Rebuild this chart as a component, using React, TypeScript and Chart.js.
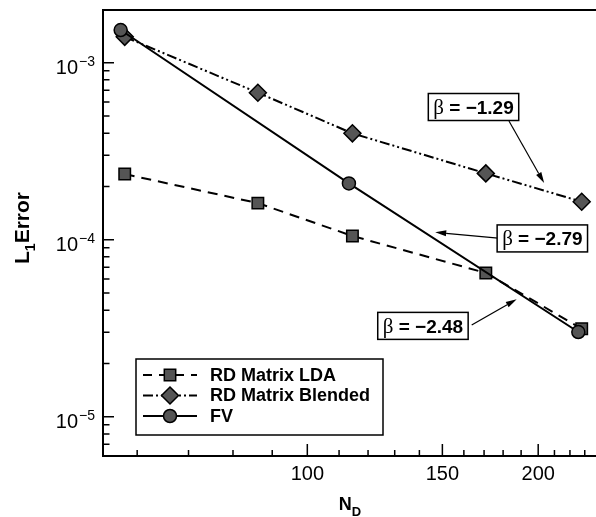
import { useEffect, useRef } from "react";
import { Chart, registerables } from "chart.js";

Chart.register(...registerables);

// Grid sizes N_D for each method
const nFV = [57.1, 113.3, 225.6];
const nRD = [57.8, 86.2, 114.5, 170.9, 227.9];

// L1 error of each method
const errLDA = [2.35e-4, 1.61e-4, 1.05e-4, 6.49e-5, 3.14e-5];
const errBlended = [1.4e-3, 6.77e-4, 3.99e-4, 2.37e-4, 1.64e-4];
const errFV = [1.53e-3, 2.08e-4, 3.01e-5];

const seriesNames = ["RD Matrix LDA", "RD Matrix Blended", "FV"];

// Axis ranges and ticks
const xRange = [54.15, 237.9];
const yRange = [6.0e-6, 1.985e-3];
const xMajorTicks = [100, 150, 200];
const xMinorTicks = [60, 70, 80, 90, 110, 120, 130, 140, 160, 170, 180, 190, 210, 220, 230];
const yMajorExponents = [-5, -4, -3];
const yMinorMantissas = [2, 3, 4, 5, 6, 7, 8, 9];
const yMinorDecades = [-6, -5, -4, -3];

// Convergence-rate callouts: label, box centre, arrow tail, arrow tip (data coordinates)
const rateLabels = ["\u22121.29", "\u22122.79", "\u22122.48"];
const rateBoxAt = [
  [164.7, 5.62e-4],
  [202.5, 1.017e-4],
  [141.5, 3.26e-5],
];
const rateTailAt = [
  [183.2, 4.68e-4],
  [177.3, 1.022e-4],
  [163.8, 3.3e-5],
];
const rateTipAt = [
  [203.6, 2.09e-4],
  [146.8, 1.101e-4],
  [187.5, 4.61e-5],
];

const WIDTH = 596;
const HEIGHT = 517;
const SANS = '"Liberation Sans", Arial, Helvetica, sans-serif';
const SERIF = '"Liberation Serif", "DejaVu Serif", serif';
const MARK_FILL = "#555555";
const INK = "#000000";

const pts = (xs: number[], ys: number[]) => xs.map((x, i) => ({ x, y: ys[i] }));

function drawMarker(ctx: CanvasRenderingContext2D, kind: string, x: number, y: number) {
  ctx.save();
  ctx.fillStyle = MARK_FILL;
  ctx.strokeStyle = INK;
  ctx.lineWidth = 1.5;
  ctx.setLineDash([]);
  ctx.beginPath();
  if (kind === "rect") {
    const s = 5.7;
    ctx.rect(x - s, y - s, 2 * s, 2 * s);
  } else if (kind === "rectRot") {
    const r = 8.5;
    ctx.moveTo(x, y - r);
    ctx.lineTo(x + r, y);
    ctx.lineTo(x, y + r);
    ctx.lineTo(x - r, y);
    ctx.closePath();
  } else {
    ctx.arc(x, y, 6.5, 0, Math.PI * 2);
  }
  ctx.fill();
  ctx.stroke();
  ctx.restore();
}

function drawArrow(ctx: CanvasRenderingContext2D, x0: number, y0: number, x1: number, y1: number) {
  const ang = Math.atan2(y1 - y0, x1 - x0);
  const len = 11;
  const half = 3;
  const bx = x1 - Math.cos(ang) * len;
  const by = y1 - Math.sin(ang) * len;
  ctx.save();
  ctx.strokeStyle = INK;
  ctx.fillStyle = INK;
  ctx.lineWidth = 1.2;
  ctx.beginPath();
  ctx.moveTo(x0, y0);
  ctx.lineTo(bx, by);
  ctx.stroke();
  ctx.beginPath();
  ctx.moveTo(x1, y1);
  ctx.lineTo(bx - Math.sin(ang) * half, by + Math.cos(ang) * half);
  ctx.lineTo(bx + Math.sin(ang) * half, by - Math.cos(ang) * half);
  ctx.closePath();
  ctx.fill();
  ctx.restore();
}

const framePlugin = {
  id: "tecplotFrame",
  beforeDatasetsDraw(chart: any) {
    const { ctx, chartArea: a, scales } = chart;
    const xs = scales.x;
    const ys = scales.y;
    ctx.save();
    ctx.strokeStyle = INK;
    ctx.lineWidth = 2;
    ctx.beginPath();
    ctx.moveTo(a.right, a.top);
    ctx.lineTo(a.left, a.top);
    ctx.lineTo(a.left, a.bottom);
    ctx.lineTo(a.right, a.bottom);
    ctx.stroke();

    ctx.lineWidth = 1.5;
    ctx.beginPath();
    xMajorTicks.forEach((v) => {
      const px = xs.getPixelForValue(v);
      ctx.moveTo(px, a.bottom);
      ctx.lineTo(px, a.bottom - 12);
    });
    xMinorTicks.forEach((v) => {
      const px = xs.getPixelForValue(v);
      ctx.moveTo(px, a.bottom);
      ctx.lineTo(px, a.bottom - 6);
    });
    yMajorExponents.forEach((e) => {
      const py = ys.getPixelForValue(Math.pow(10, e));
      ctx.moveTo(a.left, py);
      ctx.lineTo(a.left + 11, py);
    });
    yMinorDecades.forEach((d) => {
      yMinorMantissas.forEach((m) => {
        const v = m * Math.pow(10, d);
        if (v <= yRange[0] || v >= yRange[1]) return;
        const py = ys.getPixelForValue(v);
        ctx.moveTo(a.left, py);
        ctx.lineTo(a.left + 6.5, py);
      });
    });
    ctx.stroke();
    ctx.restore();
  },
  afterDatasetsDraw(chart: any) {
    const { ctx, chartArea: a, scales } = chart;
    const xs = scales.x;
    const ys = scales.y;
    ctx.save();
    ctx.fillStyle = INK;

    // x tick labels
    ctx.font = `20px ${SANS}`;
    ctx.textAlign = "center";
    ctx.textBaseline = "alphabetic";
    xMajorTicks.forEach((v) => {
      ctx.fillText(String(v), xs.getPixelForValue(v), a.bottom + 24);
    });

    // y tick labels: 10 with a raised exponent
    yMajorExponents.forEach((e) => {
      const py = ys.getPixelForValue(Math.pow(10, e));
      const expText = "\u2212" + String(-e);
      ctx.font = `14px ${SANS}`;
      const ew = ctx.measureText(expText).width;
      ctx.textAlign = "left";
      const right = a.left - 8;
      ctx.fillText(expText, right - ew, py + 3.5);
      ctx.font = `20px ${SANS}`;
      const bw = ctx.measureText("10").width;
      ctx.fillText("10", right - ew - bw - 1, py + 11.5);
    });

    // x title N_D
    ctx.textAlign = "left";
    ctx.font = `bold 18px ${SANS}`;
    const nw = ctx.measureText("N").width;
    ctx.font = `bold 13px ${SANS}`;
    const dw = ctx.measureText("D").width;
    const tx = 350 - (nw + dw) / 2;
    ctx.font = `bold 18px ${SANS}`;
    ctx.fillText("N", tx, a.bottom + 54);
    ctx.font = `bold 13px ${SANS}`;
    ctx.fillText("D", tx + nw, a.bottom + 60);

    // y title L_1 Error
    ctx.save();
    ctx.translate(29, 228);
    ctx.rotate(-Math.PI / 2);
    ctx.font = `bold 21px ${SANS}`;
    const lw = ctx.measureText("L").width;
    const rw = ctx.measureText("Error").width;
    ctx.font = `bold 14px ${SANS}`;
    const sw = ctx.measureText("1").width;
    const total = lw + sw + rw;
    let cx = -total / 2;
    ctx.font = `bold 21px ${SANS}`;
    ctx.fillText("L", cx, 0);
    cx += lw;
    ctx.font = `bold 14px ${SANS}`;
    ctx.fillText("1", cx, 6);
    cx += sw;
    ctx.font = `bold 21px ${SANS}`;
    ctx.fillText("Error", cx, 0);
    ctx.restore();

    // legend
    const lgLeft = 136;
    const lgTop = 359;
    const lgRight = 383;
    const lgBottom = 435;
    ctx.fillStyle = "#ffffff";
    ctx.fillRect(lgLeft, lgTop, lgRight - lgLeft, lgBottom - lgTop);
    ctx.strokeStyle = INK;
    ctx.lineWidth = 1.5;
    ctx.strokeRect(lgLeft, lgTop, lgRight - lgLeft, lgBottom - lgTop);
    const rowY = [375, 395.5, 416];
    const dashes = [[9, 7], [10, 3, 2, 3, 2, 3], []];
    const kinds = ["rect", "rectRot", "circle"];
    seriesNames.forEach((name, i) => {
      const y = rowY[i];
      ctx.save();
      ctx.strokeStyle = INK;
      ctx.lineWidth = 2;
      ctx.setLineDash(dashes[i]);
      ctx.beginPath();
      ctx.moveTo(143, y);
      ctx.lineTo(197, y);
      ctx.stroke();
      ctx.restore();
      drawMarker(ctx, kinds[i], 170, y);
      ctx.fillStyle = INK;
      ctx.font = `bold 18px ${SANS}`;
      ctx.textAlign = "left";
      ctx.textBaseline = "middle";
      ctx.fillText(name, 210, y + 1);
    });

    // convergence-rate callouts
    ctx.textBaseline = "alphabetic";
    rateLabels.forEach((label, i) => {
      const bx = xs.getPixelForValue(rateBoxAt[i][0]);
      const by = ys.getPixelForValue(rateBoxAt[i][1]);
      drawArrow(
        ctx,
        xs.getPixelForValue(rateTailAt[i][0]),
        ys.getPixelForValue(rateTailAt[i][1]),
        xs.getPixelForValue(rateTipAt[i][0]),
        ys.getPixelForValue(rateTipAt[i][1])
      );
      ctx.font = `21px ${SERIF}`;
      const betaW = ctx.measureText("\u03b2").width;
      ctx.font = `bold 19px ${SANS}`;
      const restText = " = " + label;
      const restW = ctx.measureText(restText).width;
      const w = betaW + restW + 10;
      const h = 27;
      ctx.fillStyle = "#ffffff";
      ctx.fillRect(bx - w / 2, by - h / 2, w, h);
      ctx.strokeStyle = INK;
      ctx.lineWidth = 1.5;
      ctx.strokeRect(bx - w / 2, by - h / 2, w, h);
      ctx.fillStyle = INK;
      ctx.textAlign = "left";
      const left = bx - w / 2 + 5;
      ctx.font = `21px ${SERIF}`;
      ctx.fillText("\u03b2", left, by + 7);
      ctx.font = `bold 19px ${SANS}`;
      ctx.fillText(restText, left + betaW, by + 7);
    });

    ctx.restore();
  },
};

export default function App() {
  const canvasRef = useRef<HTMLCanvasElement | null>(null);

  useEffect(() => {
    if (!canvasRef.current) return;
    document.body.style.margin = "0";
    document.body.style.overflow = "hidden";
    const lineBase = {
      borderColor: INK,
      borderWidth: 2,
      pointBackgroundColor: MARK_FILL,
      pointBorderColor: INK,
      pointBorderWidth: 1.5,
      fill: false,
      tension: 0,
      clip: false as const,
    };
    const chart = new Chart(canvasRef.current, {
      type: "line",
      data: {
        datasets: [
          {
            ...lineBase,
            label: seriesNames[0],
            data: pts(nRD, errLDA),
            borderDash: [10, 7],
            pointStyle: "rect",
            pointRadius: 8.1,
            order: 2,
          },
          {
            ...lineBase,
            label: seriesNames[1],
            data: pts(nRD, errBlended),
            borderDash: [10, 3, 2, 3, 2, 3],
            pointStyle: "rectRot",
            pointRadius: 8.5,
            order: 1,
          },
          {
            ...lineBase,
            label: seriesNames[2],
            data: pts(nFV, errFV),
            pointStyle: "circle",
            pointRadius: 6.5,
            order: 0,
          },
        ],
      },
      options: {
        animation: false,
        responsive: false,
        devicePixelRatio: 1,
        layout: {
          autoPadding: false,
          padding: { left: 103, top: 10, right: 0, bottom: 61 },
        },
        plugins: {
          legend: { display: false },
          tooltip: { enabled: false },
          title: { display: false },
        },
        scales: {
          x: { type: "logarithmic", min: xRange[0], max: xRange[1], display: false },
          y: { type: "logarithmic", min: yRange[0], max: yRange[1], display: false },
        },
        events: [],
      },
      plugins: [framePlugin],
    });
    return () => chart.destroy();
  }, []);

  return (
    <div
      style={{
        position: "fixed",
        left: 0,
        top: 0,
        width: WIDTH,
        height: HEIGHT,
        background: "#ffffff",
        overflow: "hidden",
      }}
    >
      <canvas
        ref={canvasRef}
        width={WIDTH}
        height={HEIGHT}
        style={{ display: "block", width: WIDTH, height: HEIGHT }}
      />
    </div>
  );
}
